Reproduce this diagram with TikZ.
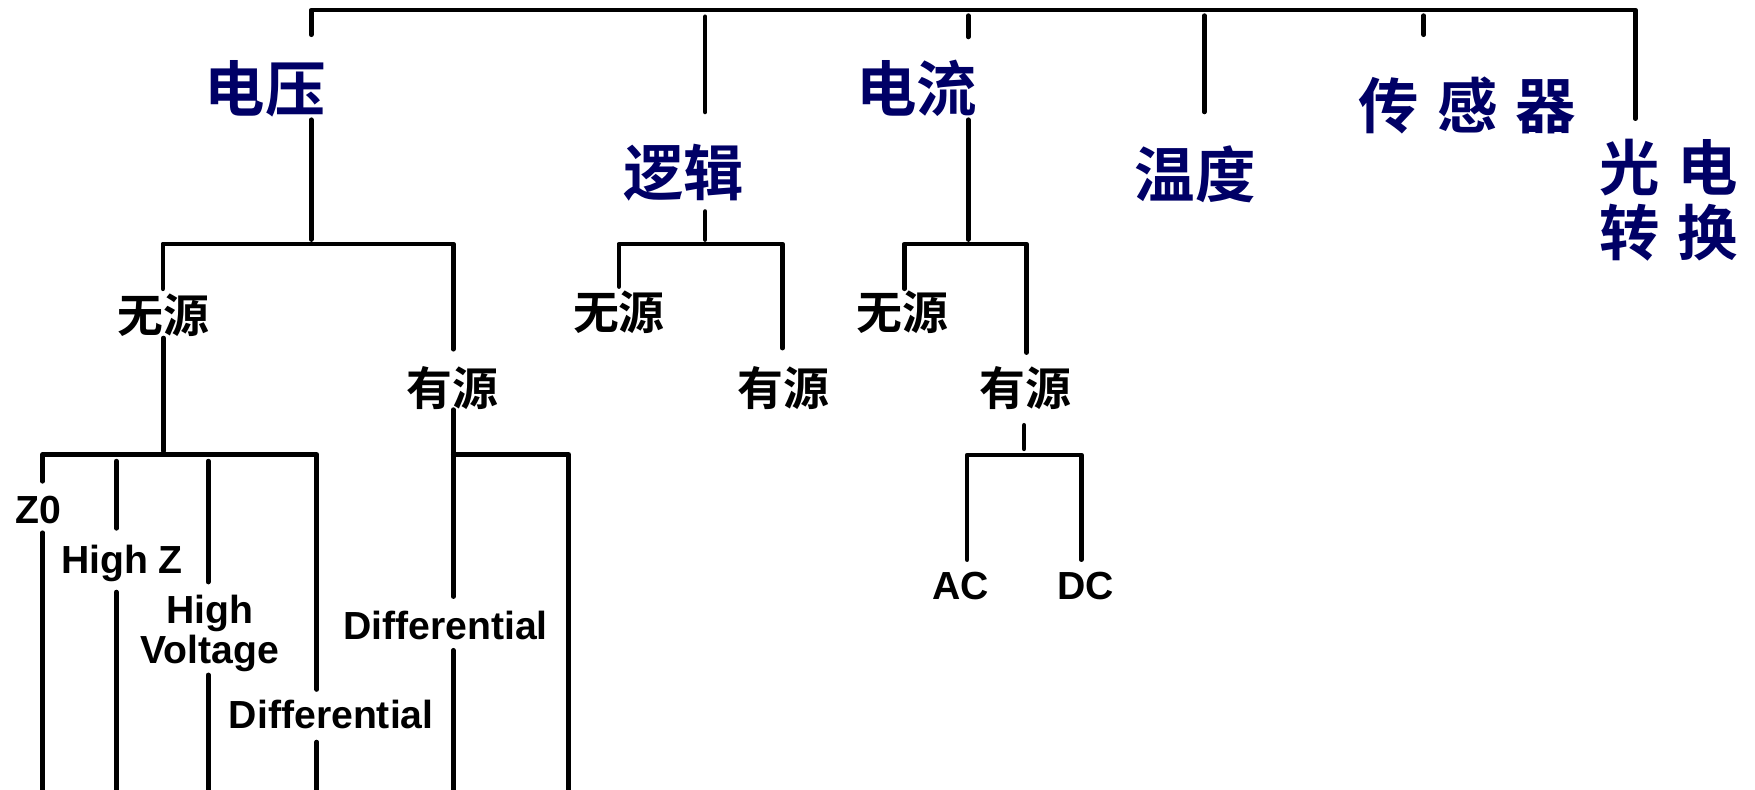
\documentclass[tikz,border=0pt]{standalone}
\usepackage{fontspec}
\setmainfont{Liberation Sans}
\newfontfamily\cjkb{Noto Sans CJK SC Bold}
\definecolor{topicblue}{RGB}{0,0,102}
\tikzset{
  ln/.style={line width=2.1pt, line cap=round, line join=round},
  topic/.style={font=\cjkb\fontsize{27}{29}\selectfont, text=topicblue, inner sep=0pt, align=center},
  sub/.style={font=\cjkb\fontsize{20.5}{22}\selectfont, inner sep=0pt},
  lat/.style={font=\bfseries\fontsize{17.5}{18}\selectfont, inner sep=0pt, anchor=base, align=center},
  latc/.style={font=\bfseries\fontsize{17.5}{18}\selectfont, inner sep=0pt, anchor=center, align=center},
}
\begin{document}
\begin{tikzpicture}[x=0.5pt,y=-0.5pt]
\path[use as bounding box] (0,0) rectangle (1568,705);

% ---- text nodes ----
\node[topic] (dy)  at (237,79)   {电压};
\node[topic] (lj)  at (611,154)  {逻辑};
\node[topic] (dl)  at (819,79)   {电流};
\node[topic] (wd)  at (1068,156) {温度};
\node[topic] (cgq) at (1311,94)  {传\hspace{8pt}感\hspace{8pt}器};
\node[topic] (gd)  at (1491,179) {光\hspace{8pt}电\\转\hspace{8pt}换};

\node[sub] (wy1) at (146,282) {无源};
\node[sub] (yy1) at (404,347) {有源};
\node[sub] (wy2) at (553,279) {无源};
\node[sub] (yy2) at (700,347) {有源};
\node[sub] (wy3) at (806,279) {无源};
\node[sub] (yy3) at (916,347) {有源};

\node[lat]  (z0)  at (34,468)    {Z0};
\node[lat]  (hz)  at (109,512)   {High Z};
\node[latc] (hv)  at (187.5,566) {High\\Voltage};
\node[lat]  (df1) at (296,651)   {Differential};
\node[lat]  (df2) at (398,571)   {Differential};
\node[lat]  (ac)  at (858,536)   {AC};
\node[lat]  (dc)  at (970,536)   {DC};

% ---- top bracket ----
\coordinate (t0) at (278,31);
\coordinate (t1) at (278,9);
\coordinate (t2) at (1461,9);
\coordinate (t3) at (1461,106);
\draw[ln] (t0) -- (t1) -- (t2) -- (t3);
\coordinate (k1a) at (630,15);   \coordinate (k1b) at (630,100);
\coordinate (k2a) at (865,14);   \coordinate (k2b) at (865,33);
\coordinate (k3a) at (1076,14);  \coordinate (k3b) at (1076,100);
\coordinate (k4a) at (1272,14);  \coordinate (k4b) at (1272,31);
\draw[ln] (k1a) -- (k1b);
\draw[ln] (k2a) -- (k2b);
\draw[ln] (k3a) -- (k3b);
\draw[ln] (k4a) -- (k4b);

% ---- 电压 branch ----
\coordinate (v0) at (278,107);  \coordinate (v1) at (278,214);
\draw[ln] (v0) -- (v1);
\coordinate (vb0) at (145.5,258); \coordinate (vb1) at (145.5,218);
\coordinate (vb2) at (405,218);   \coordinate (vb3) at (405,312);
\draw[ln] (vb0) -- (vb1) -- (vb2) -- (vb3);
\coordinate (w0) at (146,302);  \coordinate (w1) at (146,403);
\draw[ln] (w0) -- (w1);
\coordinate (pb0) at (38,430);  \coordinate (pb1) at (38,406);
\coordinate (pb2) at (283,406); \coordinate (pb3) at (283,616);
\draw[ln] (pb0) -- (pb1) -- (pb2) -- (pb3);
\coordinate (z0a) at (38,476);  \coordinate (z0b) at (38,712);
\draw[ln] (z0a) -- (z0b);
\coordinate (hz0) at (104,412); \coordinate (hz1) at (104,472);
\coordinate (hz2) at (104,529); \coordinate (hz3) at (104,712);
\draw[ln] (hz0) -- (hz1);
\draw[ln] (hz2) -- (hz3);
\coordinate (hv0) at (186,412); \coordinate (hv1) at (186,520);
\coordinate (hv2) at (186,603); \coordinate (hv3) at (186,712);
\draw[ln] (hv0) -- (hv1);
\draw[ln] (hv2) -- (hv3);
\coordinate (d10) at (283,663); \coordinate (d11) at (283,712);
\draw[ln] (d10) -- (d11);
\coordinate (a0) at (405,366);  \coordinate (a1) at (405,533);
\draw[ln] (a0) -- (a1);
\coordinate (ab0) at (405,406); \coordinate (ab1) at (508,406);
\coordinate (ab2) at (508,712);
\draw[ln] (ab0) -- (ab1) -- (ab2);
\coordinate (d20) at (405,581); \coordinate (d21) at (405,712);
\draw[ln] (d20) -- (d21);

% ---- 逻辑 branch ----
\coordinate (l0) at (630,189);  \coordinate (l1) at (630,214);
\draw[ln] (l0) -- (l1);
\coordinate (lb0) at (553,256); \coordinate (lb1) at (553,218);
\coordinate (lb2) at (699,218); \coordinate (lb3) at (699,311);
\draw[ln] (lb0) -- (lb1) -- (lb2) -- (lb3);

% ---- 电流 branch ----
\coordinate (c0) at (865,107);  \coordinate (c1) at (865,214);
\draw[ln] (c0) -- (c1);
\coordinate (cb0) at (808,258); \coordinate (cb1) at (808,218);
\coordinate (cb2) at (917,218); \coordinate (cb3) at (917,315);
\draw[ln] (cb0) -- (cb1) -- (cb2) -- (cb3);
\coordinate (e0) at (915,380);  \coordinate (e1) at (915,401);
\draw[ln] (e0) -- (e1);
\coordinate (eb0) at (864,500); \coordinate (eb1) at (864,406.5);
\coordinate (eb2) at (966,406.5); \coordinate (eb3) at (966,500);
\draw[ln] (eb0) -- (eb1) -- (eb2) -- (eb3);
\end{tikzpicture}
\end{document}
